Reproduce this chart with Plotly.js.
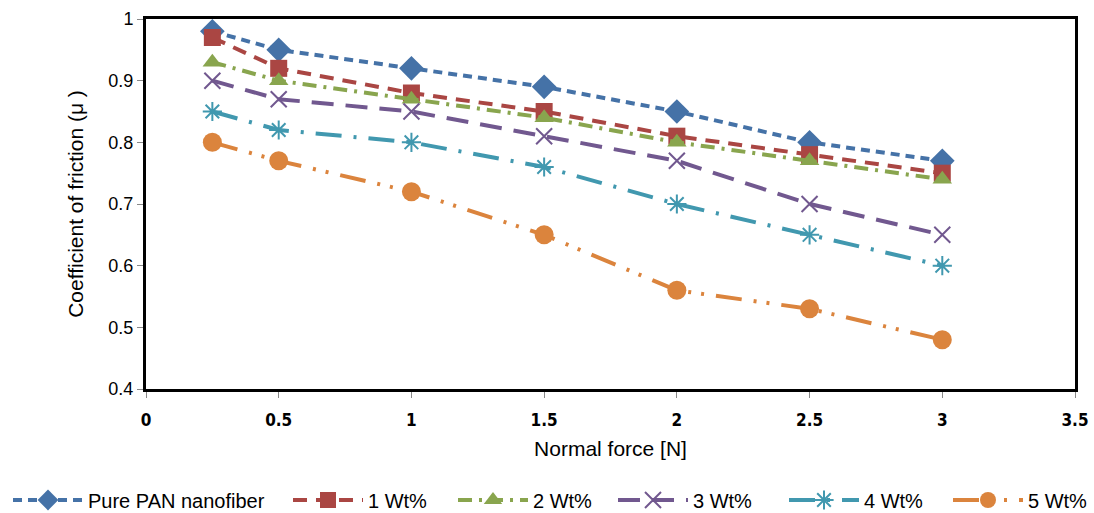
<!DOCTYPE html>
<html>
<head>
<meta charset="utf-8">
<script src="https://cdn.plot.ly/plotly-3.0.1.min.js"></script>
<style>html,body{margin:0;padding:0;background:#fff;}</style>
</head>
<body>
<div id="chart" style="width:1094px;height:513px;"></div>
<script>
const normalForce = [0.25, 0.5, 1, 1.5, 2, 2.5, 3];
const seriesNames = ["Pure PAN nanofiber", "1 Wt%", "2 Wt%", "3 Wt%", "4 Wt%", "5 Wt%"];
const purePAN = [0.98, 0.95, 0.92, 0.89, 0.85, 0.80, 0.77];
const wt1 = [0.97, 0.92, 0.88, 0.85, 0.81, 0.78, 0.75];
const wt2 = [0.93, 0.90, 0.87, 0.84, 0.80, 0.77, 0.74];
const wt3 = [0.90, 0.87, 0.85, 0.81, 0.77, 0.70, 0.65];
const wt4 = [0.85, 0.82, 0.80, 0.76, 0.70, 0.65, 0.60];
const wt5 = [0.80, 0.77, 0.72, 0.65, 0.56, 0.53, 0.48];
const xTickVals = [0, 0.5, 1, 1.5, 2, 2.5, 3, 3.5];
const xTickText = ["0", "0.5", "1", "1.5", "2", "2.5", "3", "3.5"];
const yTickVals = [0.4, 0.5, 0.6, 0.7, 0.8, 0.9, 1];
const yTickText = ["0.4", "0.5", "0.6", "0.7", "0.8", "0.9", "1"];

const values = [purePAN, wt1, wt2, wt3, wt4, wt5];
const colors = ["#4572A7", "#AA4643", "#89A54E", "#71588F", "#4198AF", "#DB843D"];
const dashes = ["9px,6px", "14px,9px", "14px,7px,3px,7px", "22px,12px", "26px,12px,3px,12px", "26px,12px,3px,10px,3px,12px"];
const symbols = ["diamond", "square", "triangle-up", "x-thin-open", "asterisk-open", "circle"];
const sizes = [19, 17, 17, 16, 16, 19];
const legendLeft = [8, 288, 453, 613, 784, 951];

const legendIds = ["legend", "legend2", "legend3", "legend4", "legend5", "legend6"];

const traces = values.map((v, i) => ({
  x: normalForce,
  y: v,
  name: seriesNames[i],
  type: "scatter",
  mode: "lines+markers",
  legend: legendIds[i],
  line: {color: colors[i], width: 4, dash: dashes[i]},
  marker: {symbol: symbols[i], size: sizes[i], color: colors[i],
           line: {color: colors[i], width: (i === 3 || i === 4) ? 2 : 0}}
}));

const layout = {
  width: 1094, height: 513,
  margin: {l: 146, r: 19, t: 19, b: 124},
  paper_bgcolor: "#fff", plot_bgcolor: "#fff",
  showlegend: true,
  xaxis: {
    range: [0, 3.5], tickvals: xTickVals, ticktext: xTickText,
    showgrid: false, zeroline: false,
    showline: true, linecolor: "#000", linewidth: 3, mirror: true,
    ticks: "outside", ticklen: 6, tickcolor: "#888", tickwidth: 1,
    ticklabelstandoff: 8,
    tickfont: {family: "Liberation Sans Narrow, DejaVu Sans Condensed, Arial", size: 17, color: "#000", weight: "bold"},
    title: {text: "Normal force [N]", font: {family: "Liberation Sans, Arial", size: 21, color: "#000"}, standoff: 12}
  },
  yaxis: {
    range: [0.4, 1], tickvals: yTickVals, ticktext: yTickText,
    showgrid: false, zeroline: false,
    showline: true, linecolor: "#000", linewidth: 3, mirror: true,
    ticks: "outside", ticklen: 6, tickcolor: "#888", tickwidth: 1,
    tickfont: {family: "Liberation Sans, Arial", size: 18, color: "#000"},
    title: {text: "Coefficient of friction (μ )", font: {family: "Liberation Sans, Arial", size: 21, color: "#000"}, standoff: 20}
  }
};

legendIds.forEach((id, i) => {
  const last = i === legendIds.length - 1;
  layout[id] = {
    orientation: "h", xref: "container", yref: "container",
    x: last ? 1093 / 1094 : legendLeft[i] / 1094,
    xanchor: last ? "right" : "left",
    y: 13 / 513, yanchor: "middle",
    font: {family: "Liberation Sans, Arial", size: 20, color: "#000"},
    itemwidth: 70, bgcolor: "rgba(0,0,0,0)", borderwidth: 0
  };
});

Plotly.newPlot("chart", traces, layout, {displayModeBar: false, staticPlot: true});
</script>
</body>
</html>
